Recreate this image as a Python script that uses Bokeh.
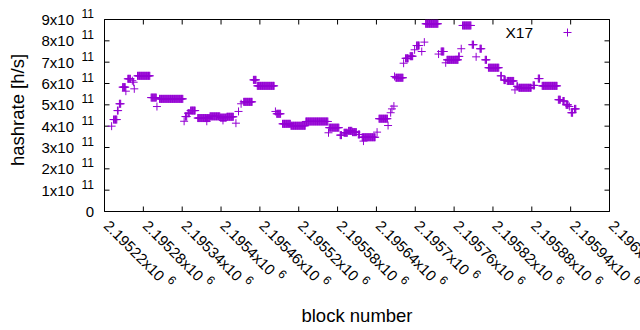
import math
import numpy as np
from bokeh.plotting import figure
from bokeh.models import Range1d, Label, Legend, LegendItem
from bokeh.embed import file_html
from bokeh.resources import INLINE

# ---- data: runs of blocks sharing the same hashrate estimate ----
run_first = [2195231, 2195234, 2195240, 2195243, 2195248, 2195253, 2195256, 2195263, 2195265, 2195266,
             2195271, 2195292, 2195301, 2195305, 2195343, 2195345, 2195349, 2195353, 2195364, 2195378,
             2195383, 2195399, 2195403, 2195409, 2195423, 2195427, 2195431, 2195435, 2195450, 2195456,
             2195484, 2195486, 2195495, 2195508, 2195531, 2195566, 2195567, 2195584, 2195590, 2195597,
             2195603, 2195612, 2195618, 2195620, 2195641, 2195644, 2195658, 2195662, 2195664, 2195667,
             2195668, 2195670, 2195682, 2195685, 2195692, 2195699, 2195702, 2195710, 2195714, 2195716,
             2195736, 2195740, 2195747, 2195749, 2195767, 2195771, 2195773, 2195788, 2195794, 2195800,
             2195808, 2195813, 2195832, 2195837, 2195842, 2195854, 2195857, 2195860, 2195882, 2195890,
             2195896, 2195921, 2195928, 2195933, 2195938, 2195941, 2195946]
run_last = [2195231, 2195239, 2195241, 2195245, 2195252, 2195253, 2195260, 2195263, 2195265, 2195266,
            2195290, 2195300, 2195301, 2195341, 2195343, 2195347, 2195351, 2195360, 2195382, 2195378,
            2195398, 2195408, 2195403, 2195419, 2195423, 2195427, 2195431, 2195448, 2195454, 2195482,
            2195484, 2195492, 2195507, 2195530, 2195565, 2195566, 2195582, 2195586, 2195595, 2195602,
            2195609, 2195614, 2195638, 2195620, 2195641, 2195657, 2195658, 2195662, 2195664, 2195667,
            2195668, 2195681, 2195682, 2195689, 2195696, 2195699, 2195706, 2195710, 2195714, 2195735,
            2195736, 2195744, 2195747, 2195766, 2195768, 2195771, 2195786, 2195790, 2195794, 2195802,
            2195810, 2195829, 2195833, 2195839, 2195852, 2195854, 2195858, 2195879, 2195884, 2195892,
            2195919, 2195924, 2195930, 2195936, 2195938, 2195943, 2195948]
run_hashrate = [4.00e11, 4.31e11, 4.73e11, 5.05e11, 5.83e11, 5.64e11, 6.22e11, 6.13e11, 6.06e11, 5.75e11,
                6.36e11, 5.34e11, 4.92e11, 5.28e11, 4.23e11, 4.45e11, 4.61e11, 4.73e11, 4.38e11, 4.23e11,
                4.46e11, 4.40e11, 4.27e11, 4.44e11, 4.14e11, 4.69e11, 5.05e11, 5.14e11, 6.17e11, 5.89e11,
                4.69e11, 4.58e11, 4.11e11, 4.02e11, 4.22e11, 3.69e11, 3.93e11, 3.58e11, 3.69e11, 3.78e11,
                3.72e11, 3.61e11, 3.48e11, 3.30e11, 3.72e11, 4.35e11, 4.03e11, 4.63e11, 4.81e11, 4.94e11,
                6.33e11, 6.27e11, 6.95e11, 7.18e11, 7.28e11, 7.58e11, 7.78e11, 7.50e11, 7.94e11, 8.80e11,
                7.38e11, 7.50e11, 6.97e11, 7.11e11, 7.27e11, 7.63e11, 8.72e11, 7.82e11, 7.25e11, 7.63e11,
                7.11e11, 6.74e11, 6.36e11, 6.16e11, 6.12e11, 5.70e11, 5.87e11, 5.80e11, 5.91e11, 6.23e11,
                5.89e11, 5.24e11, 5.18e11, 5.00e11, 4.92e11, 4.63e11, 4.81e11]

series_name = "X17"
x_ticks = [2195220, 2195280, 2195340, 2195400, 2195460, 2195520, 2195580,
           2195640, 2195700, 2195760, 2195820, 2195880, 2195940, 2196000]
x_tick_labels = ["2.19522x10", "2.19528x10", "2.19534x10", "2.1954x10", "2.19546x10",
                 "2.19552x10", "2.19558x10", "2.19564x10", "2.1957x10", "2.19576x10",
                 "2.19582x10", "2.19588x10", "2.19594x10", "2.196x10"]
x_tick_exp = "6"
y_ticks = [0, 1e11, 2e11, 3e11, 4e11, 5e11, 6e11, 7e11, 8e11, 9e11]
y_tick_labels = ["0", "1x10", "2x10", "3x10", "4x10", "5x10", "6x10", "7x10", "8x10", "9x10"]
y_tick_exp = ["", "11", "11", "11", "11", "11", "11", "11", "11", "11"]

blocks = np.concatenate([np.arange(a, b + 1) for a, b in zip(run_first, run_last)])
rates = np.concatenate([np.full(b - a + 1, v) for a, b, v in zip(run_first, run_last, run_hashrate)])

# ---- layout (pixels) : gnuplot-like plot box inside a full-canvas frame ----
W, H = 640, 330
BOX_L, BOX_R, BOX_T, BOX_B = 104, 609, 19, 211
x_lo, x_hi = x_ticks[0], x_ticks[-1]
y_lo, y_hi = y_ticks[0], y_ticks[-1]
kx = (x_hi - x_lo) / (BOX_R - BOX_L)
ky = (y_hi - y_lo) / (BOX_B - BOX_T)

FONT = "Liberation Sans"
PURPLE = "#9400D3"
TICK_FS = 15.0
SUP_FS = 12.0
TITLE_FS = 18.5
MID = 0.3465  # baseline -> text-box middle, in em

p = figure(width=W, height=H, output_backend="svg", toolbar_location=None,
           x_range=Range1d(x_lo - BOX_L * kx, x_hi + (W - BOX_R) * kx),
           y_range=Range1d(y_lo - (H - BOX_B) * ky, y_hi + BOX_T * ky),
           x_axis_location=None, y_axis_location=None,
           min_border=0, background_fill_color="white", border_fill_color="white")
p.outline_line_color = None
p.grid.visible = False

# plot box and inward ticks (mirrored on all four sides)
p.quad(left=[x_lo], right=[x_hi], bottom=[y_lo], top=[y_hi], fill_color=None,
       line_color="black", line_width=1)
TL = 5
p.ray(x=x_ticks, y=[y_lo] * len(x_ticks), length=TL, length_units="screen",
      angle=math.pi / 2, line_color="black", line_width=1)
p.ray(x=x_ticks, y=[y_hi] * len(x_ticks), length=TL, length_units="screen",
      angle=-math.pi / 2, line_color="black", line_width=1)
p.ray(x=[x_lo] * len(y_ticks), y=y_ticks, length=TL, length_units="screen",
      angle=0, line_color="black", line_width=1)
p.ray(x=[x_hi] * len(y_ticks), y=y_ticks, length=TL, length_units="screen",
      angle=math.pi, line_color="black", line_width=1)

r = p.scatter(blocks, rates, marker="cross", size=8, line_color=PURPLE, line_width=1)

# ---- tick labels (gnuplot style with raised exponent) ----
def text_width(s, size):
    w = {".": 0.278, "x": 0.5}
    return sum(w.get(c, 0.556) for c in s) * size

def lab(**kw):
    kw.setdefault("text_font", FONT)
    kw.setdefault("text_color", "black")
    kw.setdefault("text_baseline", "middle")
    p.add_layout(Label(**kw))

c45 = math.cos(math.pi / 4)
dx, dy = -1.5, 15.0          # baseline-left of rotated label relative to tick / box bottom
gap, raise_ = 5.0, 7.0
m_main = MID * TICK_FS
m_sup = MID * SUP_FS
for t, txt in zip(x_ticks, x_tick_labels):
    lab(x=t, y=y_lo, x_offset=dx + c45 * m_main, y_offset=-(dy - c45 * m_main),
        angle=-math.pi / 4, text=txt, text_align="left", text_font_size=f"{TICK_FS}px")
    s = text_width(txt, TICK_FS) + gap
    lab(x=t, y=y_lo, x_offset=dx + c45 * (s + raise_ + m_sup),
        y_offset=-(dy + c45 * (s - raise_ - m_sup)),
        angle=-math.pi / 4, text=x_tick_exp, text_align="left", text_font_size=f"{SUP_FS}px")

for v, txt, ex in zip(y_ticks, y_tick_labels, y_tick_exp):
    if ex:
        lab(x=73.5, y=v, x_units="screen", text=txt, text_align="right",
            text_font_size=f"{TICK_FS}px")
        lab(x=93.5, y=v, x_units="screen", y_offset=2 + m_sup, text=ex, text_align="right",
            text_font_size=f"{SUP_FS}px")
    else:
        lab(x=93.5, y=v, x_units="screen", text=txt, text_align="right",
            text_font_size=f"{TICK_FS}px")

# ---- axis titles ----
lab(x=(BOX_L + BOX_R) / 2, y=H - (321.7 - MID * TITLE_FS), x_units="screen", y_units="screen",
    text="block number", text_align="center", text_font_size=f"{TITLE_FS}px")
lab(x=23.3 - MID * TITLE_FS, y=H - 109.5, x_units="screen", y_units="screen",
    text="hashrate [h/s]", angle=math.pi / 2, text_align="center",
    text_font_size=f"{TITLE_FS}px")

# ---- key: text then sample, gnuplot style ----
lab(x=505, y=H - (37.3 - MID * 15.5), x_units="screen", y_units="screen", text=series_name,
    text_align="left", text_font_size="15.5px")
legend = Legend(items=[LegendItem(label=" ", renderers=[r])], location=(557.3, H - 42.3),
                padding=0, margin=0, spacing=0, border_line_color=None, background_fill_alpha=0,
                glyph_width=20, glyph_height=20, label_height=20, label_width=0, label_standoff=0,
                label_text_font_size="1px")
p.add_layout(legend, "center")

open("out.html", "w").write(file_html(p, INLINE))
